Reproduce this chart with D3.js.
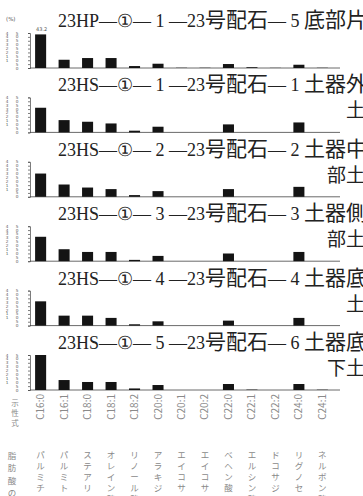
<!DOCTYPE html>
<html>
<head>
<meta charset="utf-8">
<script src="https://cdn.jsdelivr.net/npm/d3@7"></script>
<style>
  body { margin: 0; background: #fff; }
  svg { display: block; }
  .ttl { font-family: "Liberation Serif", "DejaVu Serif", serif; fill: #222; }
  .cj { font-family: "Noto Sans CJK JP", sans-serif; }
  .small { font-family: "DejaVu Sans", sans-serif; fill: #555; }
  .lbl { font-family: "Noto Sans CJK JP", sans-serif; fill: #8a8a8a; }
</style>
</head>
<body>
<svg id="chart" width="363" height="496"></svg>
<script>
// fatty acids (rational formula + name)
const acids = ['C16:0', 'C16:1', 'C18:0', 'C18:1', 'C18:2', 'C20:0', 'C20:1', 'C20:2', 'C22:0', 'C22:1', 'C22:2', 'C24:0', 'C24:1'];
const acidNames = ['パルミチン酸', 'パルミトレイン酸', 'ステアリン酸', 'オレイン酸', 'リノール酸', 'アラキジン酸',
  'エイコサモノエン酸', 'エイコサジエン酸', 'ベヘン酸', 'エルシン酸', 'ドコサジエン酸', 'リグノセリン酸', 'ネルボン酸'];

const titles = [
  '23HP—①— 1 —23号配石— 5 底部片',
  '23HS—①— 1 —23号配石— 1 土器外',
  '23HS—①— 2 —23号配石— 2 土器中',
  '23HS—①— 3 —23号配石— 3 土器側',
  '23HS—①— 4 —23号配石— 4 土器底',
  '23HS—①— 5 —23号配石— 6 土器底'
];
const subTitles = ['', '土', '部土', '部土', '土', '下土'];

// percent values, one array per sample
const hp1 = [43.2, 10.6, 12.8, 12.8, 2.5, 5.5, 0.3, 0.3, 5.1, 1.0, 0.2, 4.2, 0.3];
const hs1 = [31.7, 15.8, 13.7, 11.5, 2.2, 7.3, 0, 0, 10.3, 0, 0, 12.8, 0];
const hs2 = [29.9, 15.8, 11.9, 9.9, 2.2, 7.3, 0, 0, 9.9, 0, 0, 12.8, 0];
const hs3 = [31.4, 15.4, 11.9, 11.9, 1.7, 6.8, 0, 0, 9.9, 0, 0, 11.9, 0];
const hs4 = [31.2, 12.8, 12.8, 9.9, 1.7, 5.5, 0, 0, 6.4, 0, 0, 9.9, 0];
const hs5 = [45.0, 12.8, 10.3, 10.3, 2.0, 6.4, 0, 0, 7.7, 0.5, 0, 7.7, 0.4];
const samples = [hp1, hs1, hs2, hs3, hs4, hs5];
const labelFirst = ['43.2', '', '', '', '', ''];

const yTicks = [0, 5, 10, 15, 20, 25, 30, 35, 40, 45];

const svg = d3.select('#chart');

const x = d3.scaleBand()
  .domain(acids)
  .range([29, 334])
  .paddingInner(0.53)
  .paddingOuter(0.26);

// write a string with CJK runs in a separate font
const addMixed = (sel, str, latinSize, cjkSize) => {
  str.split(/([\u3000-\u9fff]+)/).filter((s) => s.length).forEach((s) => {
    const cjk = /[\u3000-\u9fff]/.test(s);
    sel.append('tspan')
      .attr('class', cjk ? 'cj' : null)
      .attr('font-size', cjk ? cjkSize : latinSize)
      .text(s);
  });
};

svg.append('text')
  .attr('class', 'small')
  .attr('x', 6)
  .attr('y', 21)
  .attr('font-size', 5.5)
  .text('(%)');

samples.forEach((values, i) => {
  const base = 68 + i * 64.4;
  const y = d3.scaleLinear().domain([0, 45]).range([base, base - 35]);
  const g = svg.append('g');

  // title
  const t = g.append('text')
    .attr('class', 'ttl')
    .attr('x', 58)
    .attr('y', base - 41);
  addMixed(t, titles[i], 18, 21);

  if (subTitles[i]) {
    g.append('text')
      .attr('class', 'ttl cj')
      .attr('x', 365)
      .attr('y', base - 15)
      .attr('text-anchor', 'end')
      .attr('font-size', 19)
      .text(subTitles[i]);
  }

  // y axis
  const ax = g.append('g')
    .attr('transform', 'translate(30,0)')
    .call(d3.axisLeft(y).tickValues(yTicks).tickSize(2).tickFormat(''));
  ax.selectAll('path, line').attr('stroke', '#444').attr('stroke-width', 0.7);

  // tick digits in two columns
  yTicks.forEach((v) => {
    const s = String(v);
    const tens = s.length > 1 ? s[0] : '';
    const ones = s[s.length - 1];
    g.append('text').attr('class', 'small').attr('font-size', 4.2)
      .attr('x', 7).attr('y', y(v) + 1.5).attr('text-anchor', 'middle').text(tens);
    g.append('text').attr('class', 'small').attr('font-size', 4.2)
      .attr('x', 17).attr('y', y(v) + 1.5).attr('text-anchor', 'middle').text(ones);
  });

  // baseline
  g.append('line')
    .attr('x1', 30).attr('x2', 340)
    .attr('y1', base).attr('y2', base)
    .attr('stroke', '#444').attr('stroke-width', 0.8);

  // bars
  g.selectAll('rect')
    .data(values)
    .enter()
    .append('rect')
    .attr('x', (d, j) => x(acids[j]))
    .attr('y', (d) => y(d))
    .attr('width', x.bandwidth())
    .attr('height', (d) => base - y(d))
    .attr('fill', '#141414');

  if (labelFirst[i]) {
    g.append('text')
      .attr('class', 'small')
      .attr('font-size', 5)
      .attr('x', x(acids[0]) + x.bandwidth() / 2 + 1)
      .attr('y', y(values[0]) - 3)
      .attr('text-anchor', 'middle')
      .text(labelFirst[i]);
  }
});

// bottom labels
const bottom = 390;

svg.append('g')
  .selectAll('text')
  .data(acids)
  .enter()
  .append('text')
  .attr('class', 'lbl')
  .attr('font-family', 'DejaVu Sans')
  .attr('font-size', 10)
  .attr('text-anchor', 'end')
  .attr('transform', (d) => `translate(${x(d) + x.bandwidth() / 2 + 3.5},${bottom + 4}) rotate(-90)`)
  .text((d) => d);

// vertical writing, one glyph per line; glyphs below the page are dropped
const vertical = (str, cx, y0, step, size) => {
  const chars = Array.from(str).filter((c, k) => y0 + k * step - size < 496);
  svg.append('g')
    .selectAll('text')
    .data(chars)
    .enter()
    .append('text')
    .attr('class', 'lbl')
    .attr('font-size', size)
    .attr('text-anchor', 'middle')
    .attr('x', cx)
    .attr('y', (d, k) => y0 + k * step)
    .text((d) => d);
};

vertical('示性式', 15, 406, 10, 7.5);
vertical('脂肪酸の名称', 12, 459, 12.3, 8.5);
acidNames.forEach((name, j) => {
  vertical(name, x(acids[j]) + x.bandwidth() / 2, 458, 11, 8.5);
});
</script>
</body>
</html>
